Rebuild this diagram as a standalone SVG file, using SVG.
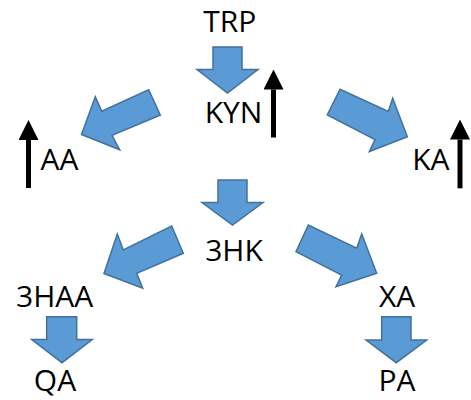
<svg xmlns="http://www.w3.org/2000/svg" width="471" height="400" viewBox="0 0 471 400">
<style>
.lbl{font-family:"Open Sans","Liberation Sans",sans-serif;font-size:30px;fill:#000;text-anchor:middle}
.blk{fill:#5B9BD5;stroke:#41719C;stroke-width:1.5;stroke-linejoin:miter}
.up{stroke:#000;stroke-width:5;fill:none;marker-end:url(#head)}
</style>
<defs>
<marker id="head" viewBox="0 0 20 20" markerWidth="20" markerHeight="20" markerUnits="userSpaceOnUse" refX="0" refY="10" orient="auto">
<path d="M0,0 L20,10 L0,20 z" fill="#000"/>
</marker>
</defs>
<rect width="471" height="400" fill="#fff"/>
<g id="connectors">
<polygon class="blk" points="213,47 242,47 242,69.5 258,69.5 227.5,93 197,69.5 213,69.5"/>
<polygon class="blk" points="218,180 247,180 247,202.5 263,202.5 232.5,225 202,202.5 218,202.5"/>
<polygon class="blk" points="46.7,316.7 76.7,316.7 76.7,339.5 92.3,339.5 62,362.7 31.7,339.5 46.7,339.5"/>
<polygon class="blk" points="381.7,316.7 411,316.7 411,340 426.7,340 396.3,362.7 366,340 381.7,340"/>
<polygon class="blk" points="81.5,134.5 95.3,96.7 101.7,111.3 148.7,89.7 160.3,115 112,135.3 119.7,149.8"/>
<polygon class="blk" points="340,89.3 327.3,115 375,139.5 369.3,151.7 407.3,136.7 392.7,98.3 388.3,111.5"/>
<polygon class="blk" points="104,273.5 117.3,234 123.3,250 171.7,226 183.3,253.3 136.7,273.3 142.7,288.3"/>
<polygon class="blk" points="308.3,225 296,251.7 341.7,275 336,286.7 376.7,273.3 361.7,234 356.7,248.3"/>
</g>
<g id="indicators">
<line class="up" x1="28.5" y1="188" x2="28.5" y2="140"/>
<line class="up" x1="273.5" y1="137.5" x2="273.5" y2="89.5"/>
<line class="up" x1="460" y1="188.3" x2="460" y2="139.5"/>
</g>
<g id="TRP"><text class="lbl" x="229.7" y="32">TRP</text></g>
<g id="KYN"><text class="lbl" x="233.5" y="123.3">KYN</text></g>
<g id="AA"><text class="lbl" x="59.5" y="170">AA</text></g>
<g id="KA"><text class="lbl" x="430.8" y="170">KA</text></g>
<g id="n3HK"><text class="lbl" x="234" y="260.7">3HK</text></g>
<g id="n3HAA"><text class="lbl" x="54.7" y="307.3">3HAA</text></g>
<g id="XA"><text class="lbl" x="397.2" y="306.7">XA</text></g>
<g id="QA"><text class="lbl" x="55" y="391">QA</text></g>
<g id="PA"><text class="lbl" x="397" y="391">PA</text></g>
</svg>
